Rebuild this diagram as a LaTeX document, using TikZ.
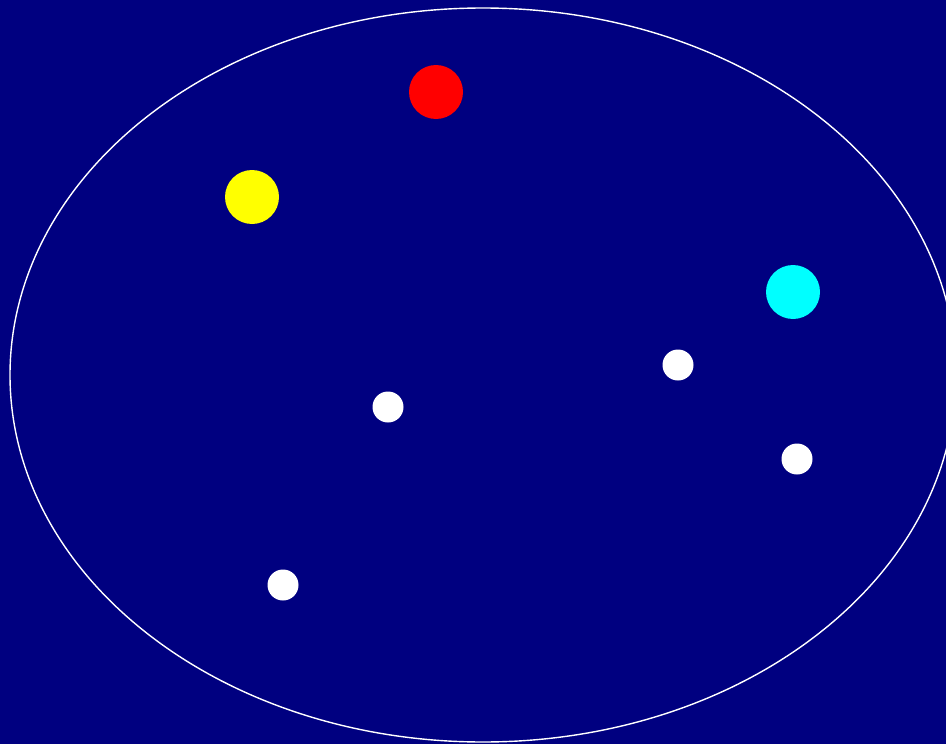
\documentclass[tikz,border=0pt]{standalone}
\usetikzlibrary{shapes.geometric}
\definecolor{bgnavy}{RGB}{0,0,128}
\definecolor{dotred}{RGB}{255,0,0}
\definecolor{dotyellow}{RGB}{255,255,0}
\definecolor{dotcyan}{RGB}{0,255,255}
\definecolor{dotwhite}{RGB}{255,255,255}
\tikzset{
  bigdot/.style={circle, minimum size=54pt, inner sep=0pt, draw=none},
  smalldot/.style={circle, minimum size=31pt, inner sep=0pt, draw=none, fill=dotwhite},
}
\begin{document}
\begin{tikzpicture}[x=1pt,y=-1pt]
\fill[bgnavy] (0,0) rectangle (946,744);
\useasboundingbox (0,0) rectangle (946,744);
\begin{scope}
\clip (0,0) rectangle (946,744);
\node[ellipse, draw=dotwhite, line width=1.4pt, minimum width=946pt, minimum height=734pt, inner sep=0pt] (rim) at (483,375) {};
\end{scope}
\node[bigdot, fill=dotred] (red) at (436,92) {};
\node[bigdot, fill=dotyellow] (yellow) at (252,197) {};
\node[bigdot, fill=dotcyan] (cyan) at (793,292) {};
\node[smalldot] (w1) at (678,365) {};
\node[smalldot] (w2) at (388,407) {};
\node[smalldot] (w3) at (797,459) {};
\node[smalldot] (w4) at (283,585) {};
\end{tikzpicture}
\end{document}
